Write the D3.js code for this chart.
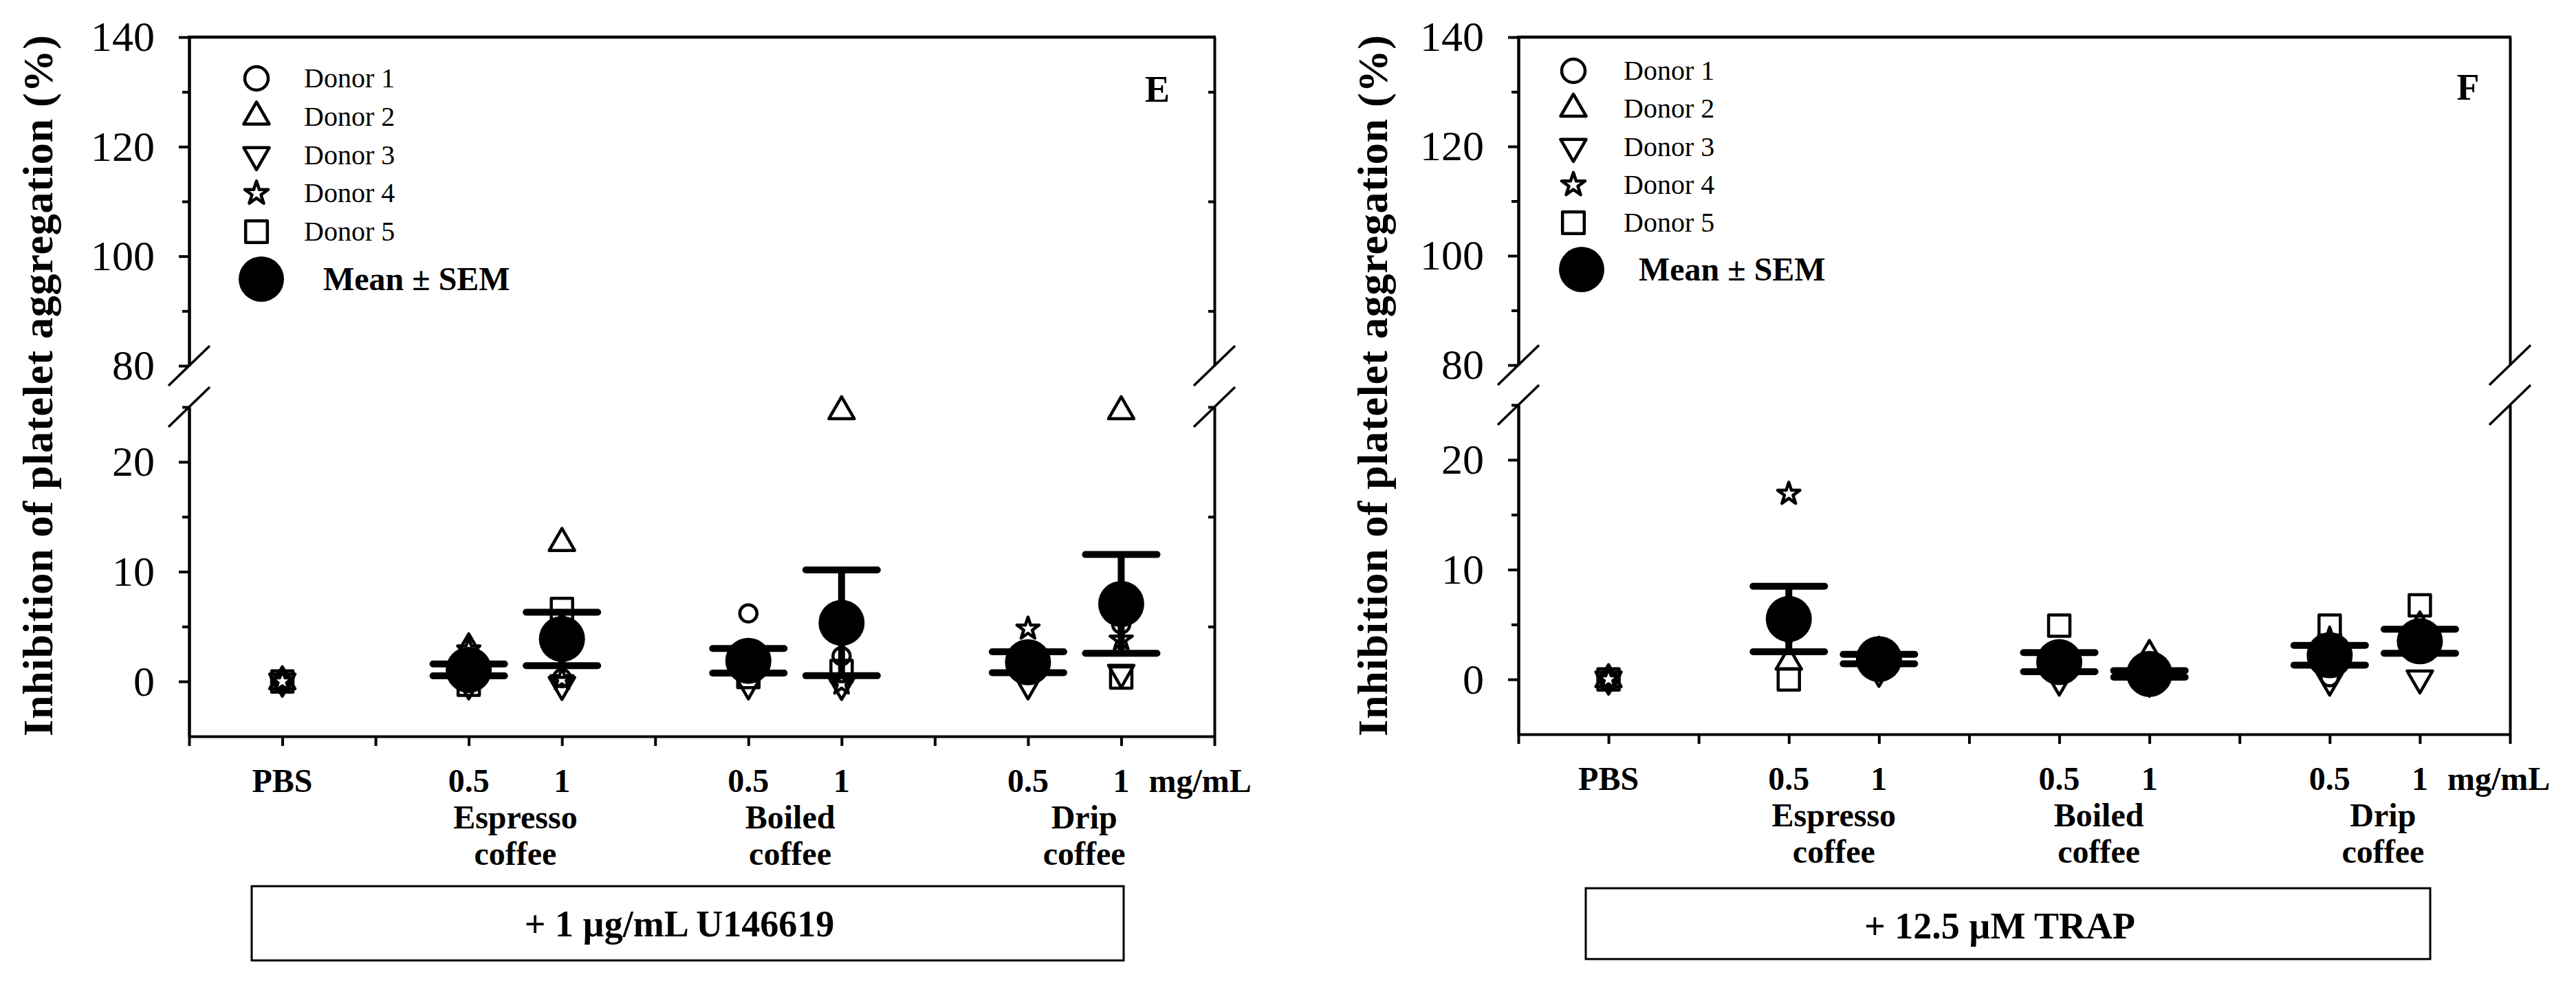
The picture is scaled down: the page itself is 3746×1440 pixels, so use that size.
<!DOCTYPE html>
<html><head><meta charset="utf-8">
<script src="https://cdn.jsdelivr.net/npm/d3@7"></script>
<style>
body{margin:0;background:#fff}
svg{display:block}
text{font-family:"Liberation Serif","Times New Roman",serif;fill:#000}
</style>
</head><body>
<svg id="chart" width="3746" height="1440"></svg>
<script>
// ---------- data ----------
const slots = ["gap0","PBS","gap1","Espresso 0.5","Espresso 1","gap2","Boiled 0.5","Boiled 1","gap3","Drip 0.5","Drip 1","gap4"];
const categories = ["PBS","Espresso 0.5","Espresso 1","Boiled 0.5","Boiled 1","Drip 0.5","Drip 1"];
const tickLabels = ["PBS","0.5","1","0.5","1","0.5","1"];
const groupNames = [["Espresso","coffee"],["Boiled","coffee"],["Drip","coffee"]];
const groupMembers = [["Espresso 0.5","Espresso 1"],["Boiled 0.5","Boiled 1"],["Drip 0.5","Drip 1"]];
const unitLabel = "mg/mL";
const donorNames = ["Donor 1","Donor 2","Donor 3","Donor 4","Donor 5"];
const meanLabel = ["Mean ","\u00B1"," SEM"];
const upperMajor = [140,120,100,80];
const upperMinor = [130,110,90];
const lowerMajor = [20,10,0];
const lowerMinor = [25,15,5];
const yTitle = "Inhibition of platelet aggregation (%)";

// Panel E (+ 1 µg/mL U146619)
const E_donor1 = [0, 0.3, 0.3, 6.2, 2.3, 1.2, 5.2];
const E_donor2 = [0, 3.0, 12.6, 1.8, 24.6, 1.8, 24.6];
const E_donor3 = [0, -0.25, -0.3, -0.25, -0.3, -0.25, 0.8];
const E_donor4 = [0, 2.9, 0.2, 1.35, -0.2, 4.8, 3.8];
const E_donor5 = [0, -0.3, 6.6, 0.4, 0.95, 1.2, 0.35];
const E_mean = [null, 1.05, 3.87, 1.88, 5.34, 1.75, 7.06];
const E_sem  = [null, 0.54, 2.43, 1.12, 4.82, 0.95, 4.5];

// Panel F (+ 12.5 µM TRAP)
const F_donor1 = [0, 4.6, 2.0, 1.0, 0.1, 0.2, 2.9];
const F_donor2 = [0, 1.6, 2.5, 1.2, 2.2, 2.3, 4.8];
const F_donor3 = [0, 4.4, 0.7, -0.1, -0.2, -0.1, 0.1];
const F_donor4 = [0, 16.9, 1.8, 0.85, 0.2, 3.7, 2.8];
const F_donor5 = [0, 0.0, 2.2, 4.9, 0.2, 4.9, 6.75];
const F_mean = [null, 5.5, 1.85, 1.57, 0.5, 2.2, 3.47];
const F_sem  = [null, 2.98, 0.43, 0.87, 0.3, 0.9, 1.1];

// ---------- layout ----------
const panels = [
  {letter:"E", letterBold:true, left:275, right:1766, top:54, upBottom:532, lowTop:592, bottom:1071,
   donors:[E_donor1,E_donor2,E_donor3,E_donor4,E_donor5], mean:E_mean, sem:E_sem,
   boxLabel:"+ 1 \u00B5g/mL U146619", rightTicks:true,
   legend:{x:373, y:114, dy:55.75, textDx:69, meanDx:7, meanDy:292, meanTextDx:97},
   titleX:76, letterX:1683, letterY:148,
   box:{x:366, y:1289, w:1268, h:108, textY:1362}, groupNudge:[0,-7,14]},
  {letter:"F", letterBold:true, left:2208, right:3650, top:54, upBottom:531, lowTop:589, bottom:1068,
   donors:[F_donor1,F_donor2,F_donor3,F_donor4,F_donor5], mean:F_mean, sem:F_sem,
   boxLabel:"+ 12.5 \u00B5M TRAP", rightTicks:false,
   legend:{x:2288, y:103, dy:55.25, textDx:73, meanDx:12, meanDy:289, meanTextDx:95},
   titleX:2017, letterX:3589, letterY:145,
   box:{x:2306, y:1292, w:1228, h:103, textY:1365}, groupNudge:[0,-8,12]}
];

const symTypes = [d3.symbolCircle, d3.symbolTriangle, d3.symbolTriangle, d3.symbolStar, d3.symbolSquare];
const symSizes = [491, 593, 593, 324, 961];
const legSizes = [908, 593, 593, 360, 1000];
const symRot = [0, 0, 180, 0, 0];

const svg = d3.select("#chart");

function styleAxis(g, w){
  g.selectAll("path,line").attr("stroke","#000").attr("stroke-width",w);
  g.selectAll("text").attr("font-family","Liberation Serif, Times New Roman, serif")
    .attr("font-size",62).attr("fill","#000");
}

panels.forEach(p => {
  const g = svg.append("g");
  const x = d3.scalePoint().domain(slots).range([p.left, p.right]).padding(0);
  const yUp = d3.scaleLinear().domain([80,140]).range([p.upBottom, p.top]);
  const yLow = d3.scaleLinear().domain([-5,25]).range([p.bottom, p.lowTop]);

  // left axis: upper segment
  const la1 = g.append("g").attr("transform",`translate(${p.left},0)`)
    .call(d3.axisLeft(yUp).tickValues(upperMajor).tickSize(15).tickSizeOuter(0).tickPadding(35));
  styleAxis(la1,4);
  const la1m = g.append("g").attr("transform",`translate(${p.left},0)`)
    .call(d3.axisLeft(yUp).tickValues(upperMinor).tickSize(10).tickSizeOuter(0).tickFormat(""));
  styleAxis(la1m,4);
  // left axis: lower segment
  const la2 = g.append("g").attr("transform",`translate(${p.left},0)`)
    .call(d3.axisLeft(yLow).tickValues(lowerMajor).tickSize(15).tickSizeOuter(0).tickPadding(35));
  styleAxis(la2,4);
  const la2m = g.append("g").attr("transform",`translate(${p.left},0)`)
    .call(d3.axisLeft(yLow).tickValues(lowerMinor).tickSize(10).tickSizeOuter(0).tickFormat(""));
  styleAxis(la2m,4);

  // right axis (ticks inward)
  const ra1 = g.append("g").attr("transform",`translate(${p.right},0)`)
    .call(d3.axisLeft(yUp).tickValues(p.rightTicks ? upperMinor : []).tickSize(9).tickSizeOuter(0).tickFormat(""));
  styleAxis(ra1,4);
  const ra2 = g.append("g").attr("transform",`translate(${p.right},0)`)
    .call(d3.axisLeft(yLow).tickValues(p.rightTicks ? lowerMinor : []).tickSize(9).tickSizeOuter(0).tickFormat(""));
  styleAxis(ra2,4);

  // top frame line
  g.append("line").attr("x1",p.left-2).attr("x2",p.right+2).attr("y1",yUp(140)).attr("y2",yUp(140))
    .attr("stroke","#000").attr("stroke-width",4.5);

  // bottom axis
  const ba = g.append("g").attr("transform",`translate(0,${yLow(-5)})`)
    .call(d3.axisBottom(x).tickSize(14).tickSizeOuter(0).tickFormat(""));
  styleAxis(ba,4);

  // break marks
  [[p.left,yUp(80)],[p.left,yLow(25)],[p.right,yUp(80)],[p.right,yLow(25)]].forEach(([bx,by]) => {
    g.append("line").attr("x1",bx-30).attr("y1",by+29).attr("x2",bx+30).attr("y2",by-29)
      .attr("stroke","#000").attr("stroke-width",3.5);
  });

  // y title
  g.append("text").attr("transform",`translate(${p.titleX},561) rotate(-90)`)
    .attr("text-anchor","middle").attr("font-weight","bold").attr("font-size",62)
    .attr("textLength",1020).attr("lengthAdjust","spacing").text(yTitle);

  // x tick labels
  const yLab = yLow(-5);
  categories.forEach((c,i) => {
    g.append("text").attr("x",x(c)).attr("y",yLab+81).attr("text-anchor","middle")
      .attr("font-weight","bold").attr("font-size",48).text(tickLabels[i]);
  });
  g.append("text").attr("x",x("Drip 1")+40).attr("y",yLab+81).attr("font-weight","bold")
    .attr("font-size",48).text(unitLabel);
  groupNames.forEach((lines,i) => {
    const cx = (x(groupMembers[i][0]) + x(groupMembers[i][1]))/2 + p.groupNudge[i];
    lines.forEach((t,j) => {
      g.append("text").attr("x",cx).attr("y",yLab+134+53*j).attr("text-anchor","middle")
        .attr("font-weight","bold").attr("font-size",48).text(t);
    });
  });

  // donor markers
  p.donors.forEach((vals,d) => {
    const sym = d3.symbol().type(symTypes[d]).size(symSizes[d]);
    vals.forEach((v,i) => {
      g.append("path").attr("d",sym())
        .attr("transform",`translate(${x(categories[i])},${yLow(v)}) rotate(${symRot[d]})`)
        .attr("fill","none").attr("stroke","#000").attr("stroke-width",4.5).attr("stroke-linejoin","round");
    });
  });

  // error bars
  p.mean.forEach((m,i) => {
    if (m === null) return;
    const cx = x(categories[i]), s = p.sem[i];
    const eb = g.append("g").attr("stroke","#000").attr("stroke-width",10).attr("stroke-linecap","round");
    eb.append("line").attr("x1",cx).attr("x2",cx).attr("y1",yLow(m-s)).attr("y2",yLow(m+s)).attr("stroke-linecap","butt");
    [m-s, m+s].forEach(v => eb.append("line").attr("x1",cx-52).attr("x2",cx+52).attr("y1",yLow(v)).attr("y2",yLow(v)));
  });
  // mean points
  p.mean.forEach((m,i) => {
    if (m === null) return;
    g.append("circle").attr("cx",x(categories[i])).attr("cy",yLow(m)).attr("r",33.5).attr("fill","#000");
  });

  // legend
  const L = p.legend;
  donorNames.forEach((n,d) => {
    const ly = L.y + d*L.dy;
    g.append("path").attr("d", d3.symbol().type(symTypes[d]).size(legSizes[d])())
      .attr("transform",`translate(${L.x},${ly}) rotate(${symRot[d]})`)
      .attr("fill","none").attr("stroke","#000").attr("stroke-width",4.5).attr("stroke-linejoin","round");
    g.append("text").attr("x",L.x+L.textDx).attr("y",ly+13).attr("font-size",40).text(n);
  });
  g.append("circle").attr("cx",L.x+L.meanDx).attr("cy",L.y+L.meanDy).attr("r",33).attr("fill","#000");
  const mt = g.append("text").attr("x",L.x+L.meanTextDx).attr("y",L.y+L.meanDy+16)
    .attr("font-size",48).attr("font-weight","bold");
  meanLabel.forEach(t => mt.append("tspan").text(t));

  // panel letter
  g.append("text").attr("x",p.letterX).attr("y",p.letterY).attr("text-anchor","middle")
    .attr("font-size",54).attr("font-weight",p.letterBold?"bold":"normal").text(p.letter);

  // treatment box
  const B = p.box;
  g.append("rect").attr("x",B.x).attr("y",B.y).attr("width",B.w).attr("height",B.h)
    .attr("fill","none").attr("stroke","#000").attr("stroke-width",3);
  g.append("text").attr("x",B.x+B.w/2-12).attr("y",B.textY).attr("text-anchor","middle")
    .attr("font-size",54).attr("font-weight","bold").text(p.boxLabel);
});
</script>
</body></html>
